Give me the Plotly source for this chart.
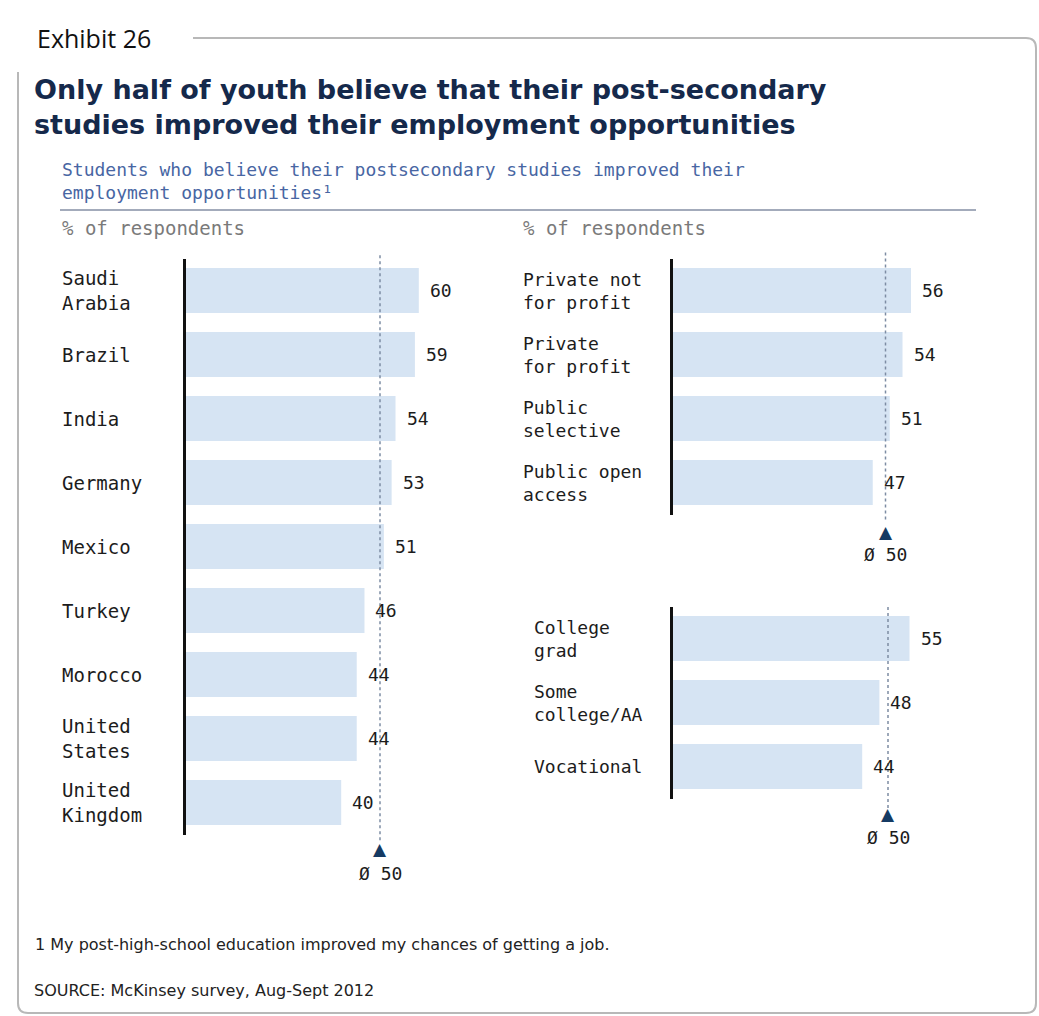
import plotly.graph_objects as go

# ---------------- data ----------------
COUNTRIES = ["Saudi Arabia", "Brazil", "India", "Germany", "Mexico",
             "Turkey", "Morocco", "United States", "United Kingdom"]
COUNTRY_VALUES = [60, 59, 54, 53, 51, 46, 44, 44, 40]

INSTITUTIONS = ["Private not for profit", "Private for profit",
                "Public selective", "Public open access"]
INSTITUTION_VALUES = [56, 54, 51, 47]

DEGREES = ["College grad", "Some college/AA", "Vocational"]
DEGREE_VALUES = [55, 48, 44]

AVERAGE = 50

LABEL_TEXT = {
    "Saudi Arabia": "Saudi<br>Arabia",
    "United States": "United<br>States",
    "United Kingdom": "United<br>Kingdom",
    "Private not for profit": "Private not<br>for profit",
    "Private for profit": "Private<br>for profit",
    "Public selective": "Public<br>selective",
    "Public open access": "Public open<br>access",
    "College grad": "College<br>grad",
    "Some college/AA": "Some<br>college/AA",
}

TITLE = "Only half of youth believe that their post-secondary<br>studies improved their employment opportunities"
SUBTITLE = "Students who believe their postsecondary studies improved their<br>employment opportunities¹"
UNIT = "% of respondents"
FOOTNOTE = "1 My post-high-school education improved my chances of getting a job."
SOURCE = "SOURCE: McKinsey survey, Aug-Sept 2012"
EXHIBIT = "Exhibit 26"

# ---------------- style ----------------
W, H = 1039, 1016
BAR_COLOR = "#d6e4f3"
NAVY = "#15294b"
TRI = "#153a63"
SUB_BLUE = "#4866a3"
GRAY = "#7a7a7a"
TXT = "#1c1c1c"
MONO = "DejaVu Sans Mono"


def px(x):
    return x / W


def py(y):
    return 1 - y / H


fig = go.Figure()

panels = [
    # categories, values, xaxis, yaxis, x-domain px, y-domain px, label x px, label size, dotted ext, tri y, avg text y
    (COUNTRIES, COUNTRY_VALUES, "x", "y", (186, 186 + 3.88 * 70), (258.5, 834.5), 60, 19, (-0.01, 1.01), 849, 873),
    (INSTITUTIONS, INSTITUTION_VALUES, "x2", "y2", (673, 673 + 4.25 * 70), (258.5, 514.5), 521, 18, (-0.02, 1.03), 532, 554),
    (DEGREES, DEGREE_VALUES, "x3", "y3", (673, 673 + 4.3 * 70), (606.5, 798.5), 532, 18, (-0.05, 1.0), 814, 837),
]

annotations = []
shapes = []
layout_axes = {}

for i, (cats, vals, xa, ya, xd, yd, lx, lsize, ext, tri_y, avg_y) in enumerate(panels):
    fig.add_trace(go.Bar(
        x=vals, y=cats, orientation="h", xaxis=xa, yaxis=ya,
        marker=dict(color=BAR_COLOR, line=dict(width=0)),
        hoverinfo="skip",
    ))
    xkey = "xaxis" if i == 0 else f"xaxis{i + 1}"
    ykey = "yaxis" if i == 0 else f"yaxis{i + 1}"
    layout_axes[xkey] = dict(domain=[px(xd[0]), px(xd[1])], range=[0, 70],
                             visible=False, anchor=ya, fixedrange=True)
    layout_axes[ykey] = dict(domain=[py(yd[1]), py(yd[0])], anchor=xa,
                             categoryorder="array", categoryarray=cats,
                             autorange="reversed", showticklabels=False,
                             showgrid=False, zeroline=False, ticks="",
                             showline=True, linecolor="#111111", linewidth=3,
                             fixedrange=True)
    # category labels (left aligned)
    for c in cats:
        annotations.append(dict(
            x=px(lx), xref="paper", xanchor="left", y=c, yref=ya, yanchor="middle",
            text=LABEL_TEXT.get(c, c), showarrow=False, align="left",
            font=dict(family=MONO, size=lsize, color=TXT)))
    # value labels
    for c, v in zip(cats, vals):
        annotations.append(dict(
            x=v, xref=xa, xanchor="left", xshift=9, y=c, yref=ya, yanchor="middle",
            text=str(v), showarrow=False,
            font=dict(family=MONO, size=18, color=TXT)))
    # average dotted line
    shapes.append(dict(type="line", xref=xa, yref=f"{ya} domain",
                       x0=AVERAGE, x1=AVERAGE, y0=ext[0], y1=ext[1],
                       line=dict(color="#7d8ca3", width=1.5, dash="dot")))
    # triangle marker + average text
    annotations.append(dict(x=AVERAGE, xref=xa, y=py(tri_y), yref="paper",
                            text="▲", showarrow=False, yanchor="middle",
                            font=dict(family="DejaVu Sans", size=17, color=TRI)))
    annotations.append(dict(x=AVERAGE, xref=xa, y=py(avg_y), yref="paper",
                            text=f"Ø {AVERAGE}", showarrow=False, yanchor="middle",
                            font=dict(family=MONO, size=18, color=TXT)))

# ---------------- texts ----------------
annotations += [
    dict(x=px(35), y=py(38), xref="paper", yref="paper", xanchor="left", yanchor="middle",
         text=EXHIBIT, showarrow=False, font=dict(family="Open Sans", size=25, color="#111111")),
    dict(x=px(32), y=py(107), xref="paper", yref="paper", xanchor="left", yanchor="middle",
         text=TITLE, showarrow=False, align="left",
         font=dict(family="DejaVu Sans", size=27, color=NAVY, weight="bold")),
    dict(x=px(60), y=py(181), xref="paper", yref="paper", xanchor="left", yanchor="middle",
         text=SUBTITLE, showarrow=False, align="left",
         font=dict(family=MONO, size=18, color=SUB_BLUE)),
    dict(x=px(60), y=py(228), xref="paper", yref="paper", xanchor="left", yanchor="middle",
         text=UNIT, showarrow=False, font=dict(family=MONO, size=19, color=GRAY)),
    dict(x=px(521), y=py(228), xref="paper", yref="paper", xanchor="left", yanchor="middle",
         text=UNIT, showarrow=False, font=dict(family=MONO, size=19, color=GRAY)),
    dict(x=px(33), y=py(944), xref="paper", yref="paper", xanchor="left", yanchor="middle",
         text=FOOTNOTE, showarrow=False, font=dict(family="DejaVu Sans", size=16, color="#222222")),
    dict(x=px(32), y=py(990), xref="paper", yref="paper", xanchor="left", yanchor="middle",
         text=SOURCE, showarrow=False, font=dict(family="DejaVu Sans", size=16, color="#222222")),
]

# ---------------- frame ----------------
def P(x, y):
    return f"{px(x):.5f},{py(y):.5f}"

frame_path = (f"M {P(193, 38)} L {P(1026, 38)} Q {P(1036, 38)} {P(1036, 48)} "
              f"L {P(1036, 1003)} Q {P(1036, 1013)} {P(1026, 1013)} "
              f"L {P(28, 1013)} Q {P(18, 1013)} {P(18, 1003)} L {P(18, 72)}")
shapes.append(dict(type="path", xref="paper", yref="paper", path=frame_path,
                   line=dict(color="#b8b8b8", width=2)))
# subtitle rule
shapes.append(dict(type="line", xref="paper", yref="paper",
                   x0=px(60), x1=px(976), y0=py(210), y1=py(210),
                   line=dict(color="#a3abbb", width=2)))

fig.update_layout(
    width=W, height=H,
    margin=dict(l=0, r=0, t=0, b=0),
    paper_bgcolor="white", plot_bgcolor="rgba(0,0,0,0)",
    showlegend=False, bargap=0.3,
    annotations=annotations, shapes=shapes,
    **layout_axes,
)

fig.write_html("out.html", config={"displayModeBar": False},
               post_script="document.body.style.margin='0';document.body.style.overflow='hidden';")
